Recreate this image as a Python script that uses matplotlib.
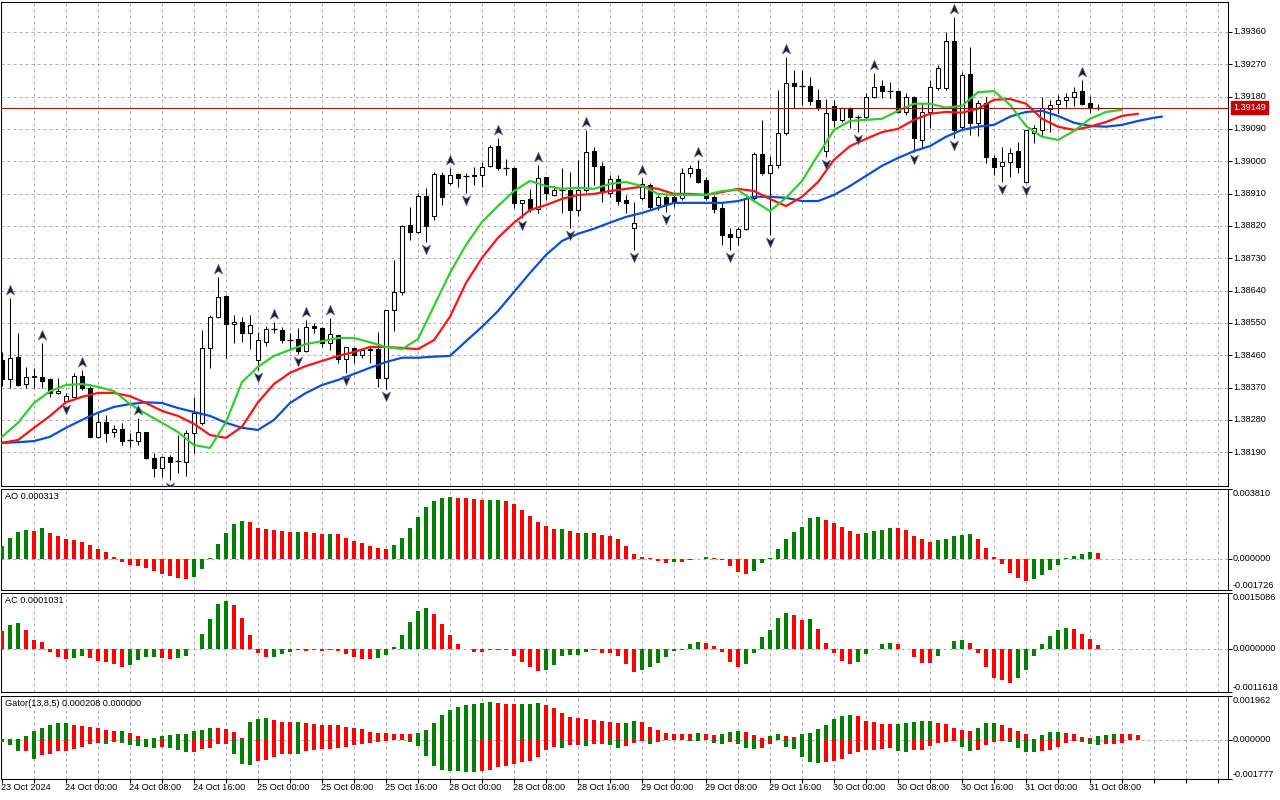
import numpy as np
import matplotlib
matplotlib.use("Agg")
import matplotlib.pyplot as plt
from matplotlib.path import Path
from matplotlib.transforms import offset_copy, blended_transform_factory

# ---------------- data (H1 bars, index 0 = 23 Oct 2024 16:00) ----------------
opens = [1.38447, 1.38394, 1.38456, 1.38380, 1.38400, 1.38400, 1.38394, 1.38355, 1.38332, 1.38344,
         1.38402, 1.38369, 1.38233, 1.38274, 1.38246, 1.38255, 1.38224, 1.38221, 1.38246, 1.38174,
         1.38146, 1.38177, 1.38165, 1.38162, 1.38244, 1.38272, 1.38480, 1.38567, 1.38625, 1.38547,
         1.38552, 1.38522, 1.38447, 1.38496, 1.38533, 1.38530, 1.38502, 1.38505, 1.38472, 1.38541,
         1.38536, 1.38494, 1.38516, 1.38450, 1.38480, 1.38461, 1.38477, 1.38477, 1.38397, 1.38586,
         1.38636, 1.38823, 1.38803, 1.38903, 1.38847, 1.38962, 1.38940, 1.38965, 1.38959, 1.38959,
         1.38962, 1.38987, 1.39042, 1.38982, 1.38982, 1.38884, 1.38895, 1.38867, 1.38957, 1.38906,
         1.38920, 1.38920, 1.38864, 1.38920, 1.39028, 1.38987, 1.38912, 1.38951, 1.38892, 1.38815,
         1.38898, 1.38934, 1.38878, 1.38901, 1.38901, 1.38898, 1.38968, 1.38979, 1.38948, 1.38901,
         1.38870, 1.38798, 1.38790, 1.38812, 1.38898, 1.39020, 1.38968, 1.38990, 1.39079, 1.39218,
         1.39209, 1.39209, 1.39171, 1.39028, 1.39154, 1.39115, 1.39149, 1.39124, 1.39124, 1.39179,
         1.39209, 1.39195, 1.39195, 1.39137, 1.39179, 1.39059, 1.39137, 1.39204, 1.39204, 1.39335,
         1.39096, 1.39243, 1.39107, 1.39163, 1.39009, 1.38987, 1.38998, 1.39028, 1.38942, 1.39079,
         1.39087, 1.39146, 1.39160, 1.39171, 1.39179, 1.39195, 1.39163, 1.39149]
highs = [1.38469, 1.38620, 1.38522, 1.38428, 1.38425, 1.38494, 1.38397, 1.38397, 1.38355, 1.38411,
         1.38419, 1.38380, 1.38300, 1.38294, 1.38266, 1.38272, 1.38244, 1.38286, 1.38246, 1.38188,
         1.38179, 1.38182, 1.38238, 1.38252, 1.38344, 1.38530, 1.38572, 1.38678, 1.38628, 1.38572,
         1.38567, 1.38572, 1.38524, 1.38541, 1.38552, 1.38539, 1.38522, 1.38536, 1.38558, 1.38550,
         1.38539, 1.38564, 1.38516, 1.38483, 1.38483, 1.38477, 1.38483, 1.38524, 1.38586, 1.38725,
         1.38823, 1.38873, 1.38912, 1.38926, 1.38970, 1.38970, 1.38982, 1.38968, 1.38968, 1.38985,
         1.38998, 1.39045, 1.39065, 1.39006, 1.38985, 1.38892, 1.38923, 1.38990, 1.38957, 1.38931,
         1.38982, 1.38970, 1.39004, 1.39087, 1.39040, 1.38998, 1.38962, 1.38962, 1.38906, 1.38886,
         1.38954, 1.38940, 1.38906, 1.38906, 1.38912, 1.38982, 1.38990, 1.39004, 1.38957, 1.38906,
         1.38886, 1.38815, 1.38818, 1.38901, 1.39025, 1.39115, 1.39014, 1.39198, 1.39291, 1.39254,
         1.39254, 1.39235, 1.39201, 1.39173, 1.39171, 1.39152, 1.39152, 1.39129, 1.39190, 1.39246,
         1.39226, 1.39220, 1.39198, 1.39190, 1.39181, 1.39163, 1.39226, 1.39268, 1.39359, 1.39402,
         1.39248, 1.39319, 1.39171, 1.39179, 1.39017, 1.39040, 1.39037, 1.39053, 1.39087, 1.39101,
         1.39179, 1.39171, 1.39184, 1.39190, 1.39207, 1.39226, 1.39181, 1.39160]
lows = [1.38374, 1.38369, 1.38374, 1.38369, 1.38369, 1.38369, 1.38344, 1.38352, 1.38329, 1.38344,
        1.38363, 1.38230, 1.38230, 1.38218, 1.38233, 1.38210, 1.38205, 1.38210, 1.38171, 1.38122,
        1.38122, 1.38113, 1.38133, 1.38124, 1.38188, 1.38266, 1.38425, 1.38564, 1.38453, 1.38494,
        1.38496, 1.38477, 1.38419, 1.38485, 1.38522, 1.38494, 1.38475, 1.38464, 1.38469, 1.38522,
        1.38483, 1.38475, 1.38439, 1.38411, 1.38439, 1.38453, 1.38439, 1.38372, 1.38366, 1.38527,
        1.38628, 1.38781, 1.38801, 1.38775, 1.38837, 1.38878, 1.38934, 1.38929, 1.38912, 1.38934,
        1.38929, 1.38985, 1.38976, 1.38962, 1.38870, 1.38842, 1.38858, 1.38856, 1.38892, 1.38903,
        1.38856, 1.38815, 1.38847, 1.38914, 1.38934, 1.38886, 1.38901, 1.38878, 1.38856, 1.38753,
        1.38892, 1.38864, 1.38864, 1.38858, 1.38873, 1.38892, 1.38957, 1.38940, 1.38892, 1.38856,
        1.38767, 1.38753, 1.38767, 1.38809, 1.38892, 1.38962, 1.38795, 1.38982, 1.39073, 1.39149,
        1.39157, 1.39157, 1.39143, 1.39012, 1.39096, 1.39109, 1.39093, 1.39081, 1.39121, 1.39176,
        1.39176, 1.39176, 1.39135, 1.39129, 1.39025, 1.39040, 1.39093, 1.39198, 1.39198, 1.39065,
        1.39087, 1.39073, 1.39070, 1.38996, 1.38962, 1.38942, 1.38957, 1.38968, 1.38940, 1.39051,
        1.39073, 1.39081, 1.39135, 1.39152, 1.39154, 1.39157, 1.39135, 1.39143]
closes = [1.38394, 1.38453, 1.38377, 1.38400, 1.38402, 1.38388, 1.38355, 1.38360, 1.38346, 1.38402,
          1.38369, 1.38233, 1.38274, 1.38244, 1.38255, 1.38221, 1.38224, 1.38246, 1.38174, 1.38146,
          1.38177, 1.38162, 1.38165, 1.38244, 1.38300, 1.38480, 1.38567, 1.38623, 1.38547, 1.38552,
          1.38522, 1.38544, 1.38502, 1.38533, 1.38533, 1.38502, 1.38502, 1.38472, 1.38539, 1.38536,
          1.38494, 1.38519, 1.38450, 1.38483, 1.38461, 1.38475, 1.38475, 1.38397, 1.38586, 1.38636,
          1.38820, 1.38803, 1.38903, 1.38820, 1.38965, 1.38901, 1.38962, 1.38954, 1.38959, 1.38962,
          1.38985, 1.39040, 1.38982, 1.38982, 1.38884, 1.38892, 1.38867, 1.38954, 1.38912, 1.38920,
          1.38920, 1.38864, 1.38920, 1.39025, 1.38987, 1.38914, 1.38951, 1.38889, 1.38884, 1.38829,
          1.38937, 1.38873, 1.38901, 1.38881, 1.38886, 1.38968, 1.38982, 1.38942, 1.38898, 1.38867,
          1.38795, 1.38790, 1.38812, 1.38898, 1.39020, 1.38968, 1.38990, 1.39079, 1.39218, 1.39209,
          1.39209, 1.39168, 1.39149, 1.39135, 1.39115, 1.39149, 1.39124, 1.39124, 1.39179, 1.39207,
          1.39195, 1.39195, 1.39137, 1.39179, 1.39065, 1.39137, 1.39207, 1.39260, 1.39335, 1.39087,
          1.39240, 1.39107, 1.39163, 1.39012, 1.38985, 1.38998, 1.39023, 1.38985, 1.39087, 1.39093,
          1.39149, 1.39157, 1.39171, 1.39179, 1.39192, 1.39160, 1.39152, 1.39149]

# Bill Williams fractals (bar indices)
fractal_up = [1, 5, 10, 17, 27, 34, 38, 41, 56, 62, 67, 73, 80, 87, 98, 109, 119, 135]
fractal_down = [8, 21, 32, 37, 43, 48, 53, 58, 65, 71, 79, 83, 91, 96, 103, 107, 114, 119, 125, 128]

# Alligator lines (read every 2 bars; the lines run into the future because of their shifts)
lips_k = list(range(0, 141, 2))
lips = [1.38233, 1.38272, 1.38327, 1.38360, 1.38377, 1.38380, 1.38372, 1.38360, 1.38324, 1.38297,
        1.38272, 1.38246, 1.38210, 1.38202, 1.38274, 1.38385, 1.38428, 1.38458, 1.38475, 1.38491,
        1.38499, 1.38508, 1.38508, 1.38496, 1.38483, 1.38477, 1.38505, 1.38597, 1.38689, 1.38767,
        1.38831, 1.38875, 1.38917, 1.38945, 1.38931, 1.38923, 1.38926, 1.38923, 1.38937, 1.38942,
        1.38931, 1.38909, 1.38906, 1.38906, 1.38906, 1.38917, 1.38920, 1.38889, 1.38861, 1.38898,
        1.38945, 1.39017, 1.39087, 1.39112, 1.39115, 1.39118, 1.39140, 1.39160, 1.39160, 1.39149,
        1.39154, 1.39192, 1.39195, 1.39157, 1.39098, 1.39068, 1.39059, 1.39084, 1.39118, 1.39137,
        1.39143]
teeth_k = list(range(0, 141, 2)) + [142]
teeth = [1.38216, 1.38224, 1.38258, 1.38291, 1.38329, 1.38344, 1.38355, 1.38355, 1.38346, 1.38327,
         1.38305, 1.38291, 1.38269, 1.38238, 1.38230, 1.38261, 1.38329, 1.38380, 1.38411, 1.38430,
         1.38444, 1.38458, 1.38469, 1.38483, 1.38483, 1.38480, 1.38477, 1.38502, 1.38567, 1.38661,
         1.38731, 1.38787, 1.38829, 1.38864, 1.38878, 1.38895, 1.38906, 1.38909, 1.38917, 1.38923,
         1.38929, 1.38923, 1.38909, 1.38909, 1.38906, 1.38914, 1.38923, 1.38917, 1.38895, 1.38875,
         1.38901, 1.38942, 1.39004, 1.39042, 1.39062, 1.39081, 1.39090, 1.39115, 1.39132, 1.39137,
         1.39135, 1.39146, 1.39171, 1.39173, 1.39160, 1.39118, 1.39096, 1.39087, 1.39096, 1.39109,
         1.39126, 1.39132]
jaw_k = list(range(0, 145, 2)) + [145]
jaw = [1.38216, 1.38218, 1.38221, 1.38233, 1.38258, 1.38280, 1.38300, 1.38316, 1.38324, 1.38329,
       1.38327, 1.38313, 1.38302, 1.38291, 1.38272, 1.38258, 1.38252, 1.38280, 1.38327, 1.38355,
       1.38377, 1.38391, 1.38408, 1.38425, 1.38441, 1.38453, 1.38453, 1.38456, 1.38458, 1.38499,
       1.38539, 1.38583, 1.38636, 1.38689, 1.38739, 1.38778, 1.38798, 1.38812, 1.38829, 1.38845,
       1.38856, 1.38870, 1.38884, 1.38884, 1.38884, 1.38884, 1.38889, 1.38901, 1.38901, 1.38898,
       1.38889, 1.38889, 1.38906, 1.38931, 1.38959, 1.38987, 1.39009, 1.39028, 1.39042, 1.39068,
       1.39087, 1.39096, 1.39101, 1.39124, 1.39137, 1.39140, 1.39126, 1.39107, 1.39098, 1.39096,
       1.39101, 1.39112, 1.39121, 1.39124]

ao = [0.00070, 0.00114, 0.00146, 0.00157, 0.00151, 0.00168, 0.00141, 0.00124, 0.00108, 0.00103,
      0.00092, 0.00076, 0.00054, 0.00038, 0.00011, -0.00018, -0.00036, -0.00043, -0.00054, -0.00069,
      -0.00087, -0.00097, -0.00106, -0.00112, -0.00101, -0.00058, 0.00004, 0.00081, 0.00142, 0.00189,
      0.00206, 0.00200, 0.00166, 0.00160, 0.00157, 0.00151, 0.00146, 0.00148, 0.00146, 0.00141,
      0.00135, 0.00136, 0.00132, 0.00114, 0.00097, 0.00087, 0.00070, 0.00060, 0.00054, 0.00076,
      0.00114, 0.00168, 0.00227, 0.00281, 0.00314, 0.00334, 0.00335, 0.00330, 0.00329, 0.00325,
      0.00319, 0.00320, 0.00321, 0.00314, 0.00297, 0.00265, 0.00233, 0.00202, 0.00178, 0.00162,
      0.00163, 0.00151, 0.00141, 0.00142, 0.00140, 0.00130, 0.00124, 0.00108, 0.00070, 0.00027,
      0.00011, 0.00001, -0.00016, -0.00025, -0.00020, -0.00021, -0.00007, -0.00002, 0.00006, 0.00004,
      -0.00008, -0.00043, -0.00076, -0.00087, -0.00070, -0.00027, 0.00001, 0.00054, 0.00108, 0.00146,
      0.00173, 0.00222, 0.00227, 0.00213, 0.00195, 0.00173, 0.00151, 0.00135, 0.00141, 0.00151,
      0.00157, 0.00168, 0.00167, 0.00157, 0.00124, 0.00108, 0.00092, 0.00099, 0.00108, 0.00124,
      0.00130, 0.00135, 0.00108, 0.00060, 0.00011, -0.00032, -0.00081, -0.00108, -0.00124, -0.00112,
      -0.00092, -0.00063, -0.00038, 0.00001, 0.00016, 0.00027, 0.00038, 0.000313]
ac = [0.00049, 0.00065, 0.00069, 0.00052, 0.00025, 0.00020, -0.00009, -0.00022, -0.00028, -0.00025,
      -0.00020, -0.00025, -0.00033, -0.00036, -0.00041, -0.00049, -0.00044, -0.00030, -0.00023, -0.00022,
      -0.00025, -0.00027, -0.00025, -0.00020, -0.00001, 0.00041, 0.00081, 0.00121, 0.00129, 0.00118,
      0.00084, 0.00038, -0.00012, -0.00023, -0.00022, -0.00014, -0.00009, -0.00004, -0.00005, -0.00004,
      -0.00006, -0.00004, -0.00006, -0.00014, -0.00023, -0.00026, -0.00028, -0.00025, -0.00017, 0.00006,
      0.00038, 0.00073, 0.00102, 0.00110, 0.00094, 0.00068, 0.00038, 0.00012, -0.00001, -0.00007,
      -0.00009, -0.00004, -0.00002, -0.00004, -0.00018, -0.00036, -0.00049, -0.00060, -0.00057, -0.00044,
      -0.00020, -0.00017, -0.00016, -0.00009, -0.00004, -0.00011, -0.00012, -0.00020, -0.00041, -0.00062,
      -0.00057, -0.00050, -0.00039, -0.00023, -0.00006, -0.00002, 0.00012, 0.00019, 0.00017, 0.00009,
      -0.00007, -0.00036, -0.00049, -0.00040, -0.00012, 0.00033, 0.00052, 0.00084, 0.00097, 0.00092,
      0.00078, 0.00081, 0.00054, 0.00017, -0.00012, -0.00033, -0.00041, -0.00036, -0.00015, -0.00001,
      0.00012, 0.00017, 0.00012, -0.00001, -0.00023, -0.00038, -0.00039, -0.00020, -0.00001, 0.00022,
      0.00025, 0.00017, -0.00012, -0.00050, -0.00079, -0.00085, -0.00092, -0.00079, -0.00057, -0.00020,
      0.00012, 0.00036, 0.00052, 0.00057, 0.00054, 0.00041, 0.00028, 0.0001031]
gator_up = [0.00003, 0.00002, 0.00003, 0.00017, 0.00040, 0.00053, 0.00067, 0.00073, 0.00076, 0.00067,
            0.00061, 0.00056, 0.00052, 0.00043, 0.00038, 0.00040, 0.00030, 0.00015, 0.00003, 0.00009,
            0.00017, 0.00020, 0.00024, 0.00027, 0.00040, 0.00043, 0.00053, 0.00050, 0.00049, 0.00035,
            0.00006, 0.00078, 0.00093, 0.00097, 0.00088, 0.00079, 0.00078, 0.00080, 0.00076, 0.00068,
            0.00067, 0.00066, 0.00065, 0.00058, 0.00053, 0.00046, 0.00035, 0.00030, 0.00029, 0.00026,
            0.00025, 0.00024, 0.00030, 0.00043, 0.00073, 0.00111, 0.00134, 0.00146, 0.00154, 0.00161,
            0.00164, 0.00167, 0.00164, 0.00161, 0.00160, 0.00161, 0.00162, 0.00163, 0.00157, 0.00141,
            0.00119, 0.00103, 0.00096, 0.00091, 0.00088, 0.00085, 0.00078, 0.00073, 0.00076, 0.00084,
            0.00079, 0.00058, 0.00043, 0.00030, 0.00027, 0.00026, 0.00024, 0.00030, 0.00024, 0.00020,
            0.00024, 0.00033, 0.00040, 0.00033, 0.00020, 0.00008, 0.00015, 0.00024, 0.00018, 0.00012,
            0.00024, 0.00030, 0.00046, 0.00065, 0.00091, 0.00106, 0.00111, 0.00106, 0.00085, 0.00081,
            0.00070, 0.00068, 0.00072, 0.00074, 0.00077, 0.00082, 0.00083, 0.00073, 0.00068, 0.00050,
            0.00043, 0.00040, 0.00050, 0.00073, 0.00076, 0.00065, 0.00050, 0.00038, 0.00024, 0.00002,
            0.00020, 0.00033, 0.00034, 0.00030, 0.00024, 0.00012, 0.00006, 0.00015, 0.00020, 0.00027,
            0.00026, 0.00024, 0.000208]
gator_down = [-0.00011, -0.00023, -0.00053, -0.00052, -0.00088, -0.00068, -0.00064, -0.00053, -0.00052, -0.00044,
              -0.00033, -0.00021, -0.00015, -0.00021, -0.00011, -0.00015, -0.00024, -0.00029, -0.00033, -0.00036,
              -0.00034, -0.00040, -0.00049, -0.00056, -0.00055, -0.00044, -0.00036, -0.00021, -0.00018, -0.00064,
              -0.00109, -0.00114, -0.00097, -0.00091, -0.00079, -0.00064, -0.00063, -0.00065, -0.00053, -0.00046,
              -0.00043, -0.00041, -0.00038, -0.00033, -0.00026, -0.00021, -0.00015, -0.00011, -0.00006, -0.00003,
              -0.00002, -0.00011, -0.00030, -0.00076, -0.00117, -0.00135, -0.00140, -0.00143, -0.00147, -0.00148,
              -0.00143, -0.00135, -0.00125, -0.00117, -0.00109, -0.00102, -0.00097, -0.00079, -0.00049, -0.00033,
              -0.00036, -0.00026, -0.00025, -0.00027, -0.00021, -0.00018, -0.00026, -0.00036, -0.00029, -0.00014,
              -0.00006, -0.00018, -0.00011, -0.00003, -0.00001, -0.00001, -0.00006, -0.00007, -0.00003, -0.00015,
              -0.00021, -0.00011, -0.00021, -0.00036, -0.00041, -0.00036, -0.00018, -0.00001, -0.00033, -0.00041,
              -0.00079, -0.00102, -0.00106, -0.00102, -0.00097, -0.00087, -0.00064, -0.00056, -0.00049, -0.00046,
              -0.00041, -0.00036, -0.00052, -0.00056, -0.00049, -0.00046, -0.00027, -0.00015, -0.00011, -0.00008,
              -0.00033, -0.00052, -0.00049, -0.00023, -0.00011, -0.00006, -0.00011, -0.00036, -0.00056, -0.00057,
              -0.00052, -0.00049, -0.00033, -0.00015, -0.00005, -0.00011, -0.00021, -0.00023, -0.00021, -0.00018,
              -0.00015]

time_label_k = list(range(0, 137, 8))
time_labels = ["23 Oct 2024", "24 Oct 00:00", "24 Oct 08:00", "24 Oct 16:00", "25 Oct 00:00",
               "25 Oct 08:00", "25 Oct 16:00", "28 Oct 00:00", "28 Oct 08:00", "28 Oct 16:00",
               "29 Oct 00:00", "29 Oct 08:00", "29 Oct 16:00", "30 Oct 00:00", "30 Oct 08:00",
               "30 Oct 16:00", "31 Oct 00:00", "31 Oct 08:00"]
price_ticks = [1.39360, 1.39270, 1.39180, 1.39090, 1.39000, 1.38910, 1.38820,
               1.38730, 1.38640, 1.38550, 1.38460, 1.38370, 1.38280, 1.38190]
bid = 1.39149
ao_range = (-0.001726, 0.003810)
ac_range = (-0.0011618, 0.0015086)
gator_range = (-0.001777, 0.001962)
main_range = (1.38096, 1.39443)

# ---------------- style ----------------
plt.rcParams['font.family'] = ['Liberation Sans', 'DejaVu Sans']
FS = 6.6
GRID = '#b4a8b8'
GREEN_BAR = '#008000'
RED_BAR = '#ff0000'
W, H = 1280, 800
fig = plt.figure(figsize=(W / 100, H / 100), dpi=100)
fig.patch.set_facecolor('white')

XLIM = (-0.125, 153.25)
grid_k = np.arange(4, 153, 4)


def panel(top, bottom, left=1, right=1228):
    ax = fig.add_axes([left / W, 1 - bottom / H, (right - left) / W, (bottom - top) / H])
    ax.set_xlim(*XLIM)
    for s in ax.spines.values():
        s.set_linewidth(0.75)
        s.set_color('black')
    ax.set_xticks([])
    for gk in grid_k:
        ax.axvline(gk, color=GRID, lw=0.72, dashes=(3, 3), zorder=0)
    return ax


def right_label(ax, value, text, va='center'):
    ax.annotate(text, xy=(1, value), xycoords=('axes fraction', 'data'),
                xytext=(5, 0), textcoords='offset pixels', ha='left', va=va,
                fontsize=FS, annotation_clip=False)


def up_colors(vals, first_green):
    v = np.asarray(vals)
    g = np.empty(len(v), dtype=bool)
    g[0] = first_green
    g[1:] = v[1:] > v[:-1]
    return np.where(g, GREEN_BAR, RED_BAR)


# ---------------- main price panel ----------------
ax = panel(2, 486)
ax.set_ylim(*main_range)
for p in price_ticks:
    ax.axhline(p, color=GRID, lw=0.72, dashes=(3, 3), zorder=0)

k = np.arange(len(opens))
o = np.array(opens); h = np.array(highs); l = np.array(lows); c = np.array(closes)
bull = c >= o
ax.vlines(k, l, h, color='black', lw=0.75, zorder=3)
ax.bar(k, np.abs(c - o), bottom=np.minimum(o, c), width=0.56,
       color=np.where(bull, 'white', 'black'), edgecolor='black', linewidth=0.75, zorder=4)
doji = np.isclose(o, c)
ax.hlines(o[doji], k[doji] - 0.32, k[doji] + 0.32, color='black', lw=0.9, zorder=5)

ax.plot(jaw_k, jaw, color='#0b4fd8', lw=1.6, zorder=6, solid_joinstyle='round', solid_capstyle='round')
ax.plot(teeth_k, teeth, color='#ff1414', lw=1.6, zorder=7, solid_joinstyle='round', solid_capstyle='round')
ax.plot(lips_k, lips, color='#32cd32', lw=1.6, zorder=8, solid_joinstyle='round', solid_capstyle='round')

up_path = Path([(0, 1), (0.8, -0.85), (0, -0.35), (-0.8, -0.85), (0, 1)],
               [Path.MOVETO, Path.LINETO, Path.LINETO, Path.LINETO, Path.CLOSEPOLY])
down_path = Path([(0, -1), (0.8, 0.85), (0, 0.35), (-0.8, 0.85), (0, -1)],
                 [Path.MOVETO, Path.LINETO, Path.LINETO, Path.LINETO, Path.CLOSEPOLY])
tr_up = offset_copy(ax.transData, fig=fig, x=0, y=8, units='dots')
tr_dn = offset_copy(ax.transData, fig=fig, x=0, y=-7, units='dots')
ax.plot(fractal_up, h[fractal_up], ls='none', marker=up_path, ms=7.5, mfc='#1e1e2a',
        mec='#5a6e9a', mew=0.5, transform=tr_up, zorder=9, clip_on=False)
ax.plot(fractal_down, l[fractal_down], ls='none', marker=down_path, ms=7.5, mfc='#1e1e2a',
        mec='#5a6e9a', mew=0.5, transform=tr_dn, zorder=9, clip_on=True)

ax.axhline(bid, color='#a01010', lw=0.75, zorder=10)
ax.yaxis.tick_right()
ax.set_yticks(price_ticks)
ax.tick_params(axis='y', direction='out', length=3, width=0.75, labelright=False, labelleft=False)
for p in price_ticks:
    right_label(ax, p, f"{p:.5f}")
ax.annotate(f"{bid:.5f}", xy=(1, bid), xycoords=('axes fraction', 'data'),
            xytext=(5, 0), textcoords='offset pixels', ha='left', va='center',
            fontsize=FS, color='white', annotation_clip=False,
            bbox=dict(boxstyle='square,pad=0.25', fc='#c40000', ec='#c40000'))


# ---------------- oscillator panels ----------------
def osc_panel(top, bottom, vals, rng, first_green, title, fmt):
    a = panel(top, bottom)
    a.set_ylim(*rng)
    a.axhline(0, color=GRID, lw=0.72, dashes=(3, 3), zorder=0)
    kk = np.arange(len(vals))
    a.bar(kk, vals, width=0.55, color=up_colors(vals, first_green), linewidth=0, zorder=3)
    a.yaxis.tick_right()
    a.set_yticks([rng[0], 0, rng[1]])
    a.tick_params(axis='y', direction='out', length=3, width=0.75, labelright=False, labelleft=False)
    right_label(a, rng[1], fmt.format(rng[1]), va='top')
    right_label(a, 0, fmt.format(0.0))
    right_label(a, rng[0], fmt.format(rng[0]), va='bottom')
    a.annotate(title, xy=(0, 1), xycoords='axes fraction', xytext=(4, -3),
               textcoords='offset pixels', ha='left', va='top', fontsize=FS)
    return a


ax_ao = osc_panel(489, 590, ao, ao_range, True, f"AO {ao[-1]:.6f}", "{:.6f}")
ax_ac = osc_panel(593, 692, ac, ac_range, False, f"AC {ac[-1]:.7f}", "{:.7f}")

# ---------------- gator panel ----------------
ax_g = panel(696, 779)
ax_g.set_ylim(*gator_range)
ax_g.axhline(0, color=GRID, lw=0.72, dashes=(3, 3), zorder=0)
gu = np.array(gator_up)
gd = np.array(gator_down)
ax_g.bar(np.arange(len(gu)), gu, width=0.6, color=up_colors(gu, False), linewidth=0, zorder=3)
ax_g.bar(np.arange(len(gd)), gd, width=0.6, color=up_colors(-gd, True), linewidth=0, zorder=3)
ax_g.yaxis.tick_right()
ax_g.set_yticks([gator_range[0], 0, gator_range[1]])
ax_g.tick_params(axis='y', direction='out', length=3, width=0.75, labelright=False, labelleft=False)
right_label(ax_g, gator_range[1], f"{gator_range[1]:.6f}", va='top')
right_label(ax_g, 0, f"{0:.6f}")
right_label(ax_g, gator_range[0], f"{gator_range[0]:.6f}", va='bottom')
ax_g.annotate(f"Gator(13,8,5) {gator_up[-1]:.6f} {0:.6f}", xy=(0, 1), xycoords='axes fraction',
              xytext=(4, -3), textcoords='offset pixels', ha='left', va='top', fontsize=FS)

ax_g.set_xticks(np.arange(0, 153, 4))
ax_g.tick_params(axis='x', direction='out', length=3, width=0.75, labelbottom=False)
tb = blended_transform_factory(ax_g.transData, ax_g.transAxes)
tb = offset_copy(tb, fig=fig, x=0, y=-9, units='dots')
for kk, lab in zip(time_label_k, time_labels):
    ax_g.text(kk - 0.1, 0, lab, transform=tb, ha='left', va='center', fontsize=FS, clip_on=False)

fig.savefig("out.png", dpi=100, facecolor='white')
